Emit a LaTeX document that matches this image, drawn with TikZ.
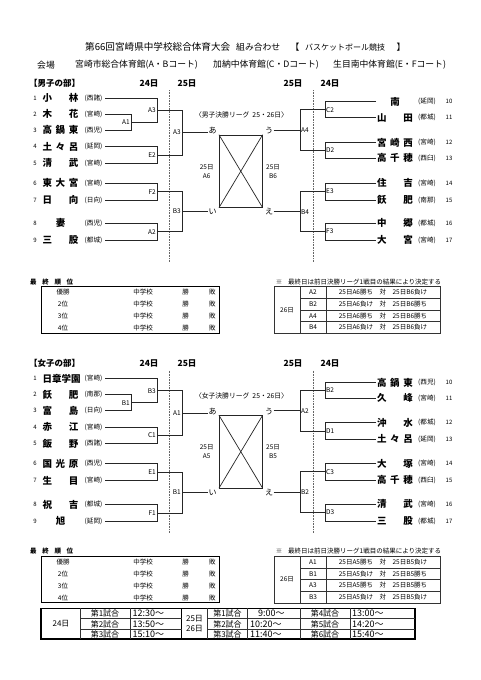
\documentclass[tikz,border=0pt]{standalone}
\usepackage{fontspec}
\setmainfont{Noto Sans CJK JP}
\usetikzlibrary{calc}
\tikzset{
  br/.style={draw=black!85, line width=0.7pt},
  dl/.style={draw=black!60, line width=0.6pt, dash pattern=on 0.7pt off 0.9pt},
  tm/.style={inner sep=0pt, font=\fontsize{9.5}{10}\selectfont\bfseries},
  rg/.style={inner sep=0pt, font=\fontsize{6.6}{7}\selectfont},
  num/.style={inner sep=0pt, font=\fontsize{6}{7}\selectfont},
  lb/.style={inner sep=1pt, font=\fontsize{6.5}{7}\selectfont},
  hd/.style={inner sep=0pt, font=\fontsize{8.5}{9}\selectfont\bfseries},
  ti/.style={inner sep=0pt, font=\fontsize{8.8}{9}\selectfont},
  kana/.style={inner sep=0.5pt, font=\fontsize{8}{9}\selectfont},
  sm/.style={inner sep=0pt, font=\fontsize{6.5}{7}\selectfont},
  tb/.style={inner sep=0pt, font=\fontsize{6.5}{7}\selectfont},
  sc/.style={inner sep=0pt, font=\fontsize{8}{9}\selectfont},
  st/.style={inner sep=0pt, font=\fontsize{9}{9}\selectfont},
  bx/.style={draw=black, line width=1.3pt},
  tl/.style={draw=black!80, line width=0.6pt},
}
\newcommand\lteam[5]{%
  \node[num] (#1n) at (35,#2) {#3};
  \node[tm] (#1t) at (60.5,#2) {\makebox[36pt][s]{#4}};
  \node[rg] (#1r) at (93.5,#2) {#5};
  \coordinate (#1) at (105,#2);}
\newcommand\rteam[5]{%
  \node[tm] (#1t) at (395,#2) {\makebox[36pt][s]{#4}};
  \node[rg] (#1r) at (427,#2) {#5};
  \node[num] (#1n) at (449,#2) {#3};
  \coordinate (#1) at (376,#2);}
\newcommand\ljoin[5]{%
  \draw[br] (#2) -- (#2 -| #4) -- (#3 -| #4) -- (#3);
  \coordinate (#1) at ($(#2 -| #4)!0.5!(#3 -| #4)$);
  \node[lb, anchor=east] (#1l) at (#1) {#5};}
\newcommand\rjoin[5]{%
  \draw[br] (#2) -- (#2 -| #4) -- (#3 -| #4) -- (#3);
  \coordinate (#1) at ($(#2 -| #4)!0.5!(#3 -| #4)$);
  \node[lb, anchor=west] (#1l) at (#1) {#5};}
\newcommand\secframe[5]{% prefix, 男子/女子, A6, B6, dotted bottom
  \node[hd, anchor=west] (#1hd) at (29,83) {【#2の部】};
  \node[hd] (#1d1) at (149,83) {24日};
  \node[hd] (#1d2) at (187,83) {25日};
  \node[hd] (#1d3) at (293,83) {25日};
  \node[hd] (#1d4) at (330,83) {24日};
  \coordinate (#1lt) at (169,90); \coordinate (#1lb) at (169,#5);
  \coordinate (#1rt) at (313,90); \coordinate (#1rb) at (313,#5);
  \draw[dl] (#1lt) -- (#1lb);
  \draw[dl] (#1rt) -- (#1rb);
  \node[sm, font=\fontsize{6.8}{7}\selectfont] (#1lg) at (241.5,115) {〈#2決勝リーグ\ \ 25・26日〉};
  \node[br, minimum width=43pt, minimum height=72.3pt, inner sep=0pt] (#1box) at (240.8,171.2) {};
  \draw[br] (#1box.north west) -- (#1box.south east);
  \draw[br] (#1box.north east) -- (#1box.south west);
  \node[kana] (#1a) at (212.5,131) {あ};
  \node[kana] (#1i) at (212.5,212) {い};
  \node[kana] (#1u) at (269,131) {う};
  \node[kana] (#1e) at (269,212) {え};
  \node[sm, align=center, font=\fontsize{6.5}{9.3}\selectfont] (#1gl) at (206.7,171.3) {25日\\#3};
  \node[sm, align=center, font=\fontsize{6.5}{9.3}\selectfont] (#1gr) at (273,171.3) {25日\\#4};
}
\newcommand\finals[7]{%
  \node[sm, anchor=west] (#1st) at (30,281.7) {\makebox[43pt][s]{\bfseries 最\hfill 終\hfill 順\hfill 位}};
  \draw[bx] (41.7,286.7) rectangle (219.3,333.3);
  \foreach \rr/\yy [count=\i] in {優勝/292.3, 2位/304.3, 3位/316.3, 4位/328.3} {
     \node[tb] (#1r\i) at (63,\yy) {\rr};
     \node[tb] (#1s\i) at (143,\yy) {中学校};
     \node[tb] (#1w\i) at (185.7,\yy) {勝};
     \node[tb] (#1l\i) at (212.3,\yy) {敗};
  }
  \node[sm] (#1kome) at (279,281.7) {※};
  \node[sm, anchor=west] (#1nt) at (288,281.7) {最終日は前日決勝リーグ1戦目の結果により決定する};
  \draw[tl] (274.3,286.7) rectangle (440,333.3);
  \draw[tl] (300,286.7) -- (300,333.3);
  \draw[tl] (326,286.7) -- (326,333.3);
  \foreach \yy in {298.3,310,321.7} {\draw[tl] (300,\yy) -- (440,\yy);}
  \node[tb] (#1dd) at (287,310) {26日};
  \node[tb] (#1g1) at (313,292.5) {#4};
  \node[tb] (#1c1) at (383,292.5) {25日#2勝ち　対　25日#3負け};
  \node[tb] (#1g2) at (313,304.15) {#5};
  \node[tb] (#1c2) at (383,304.15) {25日#2負け　対　25日#3勝ち};
  \node[tb] (#1g3) at (313,315.85) {#6};
  \node[tb] (#1c3) at (383,315.85) {25日#2勝ち　対　25日#3勝ち};
  \node[tb] (#1g4) at (313,327.5) {#7};
  \node[tb] (#1c4) at (383,327.5) {25日#2負け　対　25日#3負け};
}
\begin{document}
\begin{tikzpicture}[x=1pt,y=-1pt]
\useasboundingbox (0,0) rectangle (481,680);
\fill[white] (0,0) rectangle (481,680);
\coordinate (xL1) at (131,0);
\coordinate (xL2) at (157,0);
\coordinate (xL3) at (182,0);
\coordinate (xR3) at (300,0);
\coordinate (xR2) at (325,0);
% header
\node[ti, anchor=west, font=\fontsize{9.6}{10}\selectfont] (t1) at (85,47) {第66回宮崎県中学校総合体育大会};
\node[ti, anchor=west] (t2) at (236,47) {組み合わせ};
\node[ti] (t3) at (295,47) {【};
\node[ti, anchor=west, font=\fontsize{8}{9}\selectfont] (t4) at (305,47) {バスケットボール競技};
\node[ti] (t5) at (401,47) {】};
\node[ti, anchor=west] (v0) at (37,65) {会場};
\node[ti, anchor=west] (v1) at (75,65) {宮崎市総合体育館(A・Bコート)};
\node[ti, anchor=west] (v2) at (213,65) {加納中体育館(C・Dコート)};
\node[ti, anchor=west] (v3) at (333,65) {生目南中体育館(E・Fコート)};
% ===== men =====
\secframe{m}{男子}{A6}{B6}{262}
\lteam{m1}{98.3}{1}{小\hfill 林}{(西諸)}
\lteam{m2}{114.3}{2}{木\hfill 花}{(宮崎)}
\lteam{m3}{130}{3}{高\hfill 鍋\hfill 東}{(西児)}
\lteam{m4}{146.7}{4}{土\hfill 々\hfill 呂}{(延岡)}
\lteam{m5}{163.3}{5}{清\hfill 武}{(宮崎)}
\lteam{m6}{183.3}{6}{東\hfill 大\hfill 宮}{(宮崎)}
\lteam{m7}{200}{7}{日\hfill 向}{(日向)}
\lteam{m8}{223.3}{8}{\hfill 妻\hfill}{(西児)}
\lteam{m9}{240}{9}{三\hfill 股}{(都城)}
\rteam{m10}{101.7}{10}{\hfill 南\hfill}{(延岡)}
\rteam{m11}{117.7}{11}{山\hfill 田}{(都城)}
\rteam{m12}{142.7}{12}{宮\hfill 崎\hfill 西}{(宮崎)}
\rteam{m13}{158.3}{13}{高\hfill 千\hfill 穂}{(西臼)}
\rteam{m14}{183.3}{14}{住\hfill 吉}{(宮崎)}
\rteam{m15}{200}{15}{飫\hfill 肥}{(南那)}
\rteam{m16}{223.3}{16}{中\hfill 郷}{(都城)}
\rteam{m17}{240}{17}{大\hfill 宮}{(宮崎)}
\ljoin{mA1}{m2}{m3}{xL1}{A1}
\ljoin{mA3}{m1}{mA1}{xL2}{A3}
\ljoin{mE2}{m4}{m5}{xL2}{E2}
\ljoin{mF2}{m6}{m7}{xL2}{F2}
\ljoin{mA2}{m8}{m9}{xL2}{A2}
\ljoin{mA3b}{mA3}{mE2}{xL3}{A3}
\ljoin{mB3}{mF2}{mA2}{xL3}{B3}
\draw[br] (mA3b) -- (mA3b -| ma.west);
\draw[br] (mB3) -- (mB3 -| mi.west);
\rjoin{mC2}{m10}{m11}{xR2}{C2}
\rjoin{mD2}{m12}{m13}{xR2}{D2}
\rjoin{mE3}{m14}{m15}{xR2}{E3}
\rjoin{mF3}{m16}{m17}{xR2}{F3}
\rjoin{mA4}{mC2}{mD2}{xR3}{A4}
\rjoin{mB4}{mE3}{mF3}{xR3}{B4}
\draw[br] (mu.east |- mA4) -- (mA4);
\draw[br] (me.east |- mB4) -- (mB4);
\finals{mf}{A6}{B6}{A2}{B2}{A4}{B4}
% ===== women =====
\begin{scope}[shift={(0,280.5)}]
\secframe{w}{女子}{A5}{B5}{252.8}
\lteam{w1}{98.3}{1}{日\hfill 章\hfill 学\hfill 園}{(宮崎)}
\lteam{w2}{114.3}{2}{飫\hfill 肥}{(南那)}
\lteam{w3}{130}{3}{富\hfill 島}{(日向)}
\lteam{w4}{146.7}{4}{赤\hfill 江}{(宮崎)}
\lteam{w5}{163.3}{5}{飯\hfill 野}{(西諸)}
\lteam{w6}{183.3}{6}{国\hfill 光\hfill 原}{(西児)}
\lteam{w7}{200}{7}{生\hfill 目}{(宮崎)}
\lteam{w8}{224}{8}{祝\hfill 吉}{(都城)}
\lteam{w9}{240.7}{9}{\hfill 旭\hfill}{(延岡)}
\rteam{w10}{102}{10}{高\hfill 鍋\hfill 東}{(西児)}
\rteam{w11}{117.7}{11}{久\hfill 峰}{(宮崎)}
\rteam{w12}{142.3}{12}{沖\hfill 水}{(都城)}
\rteam{w13}{158.8}{13}{土\hfill 々\hfill 呂}{(延岡)}
\rteam{w14}{183}{14}{大\hfill 塚}{(宮崎)}
\rteam{w15}{199.5}{15}{高\hfill 千\hfill 穂}{(西臼)}
\rteam{w16}{223.8}{16}{清\hfill 武}{(宮崎)}
\rteam{w17}{240.5}{17}{三\hfill 股}{(都城)}
\ljoin{wB1}{w2}{w3}{xL1}{B1}
\ljoin{wB3}{w1}{wB1}{xL2}{B3}
\ljoin{wC1}{w4}{w5}{xL2}{C1}
\ljoin{wE1}{w6}{w7}{xL2}{E1}
\ljoin{wF1}{w8}{w9}{xL2}{F1}
\ljoin{wA1}{wB3}{wC1}{xL3}{A1}
\ljoin{wB1b}{wE1}{wF1}{xL3}{B1}
\draw[br] (wA1) -- (wA1 -| wa.west);
\draw[br] (wB1b) -- (wB1b -| wi.west);
\rjoin{wB2}{w10}{w11}{xR2}{B2}
\rjoin{wD1}{w12}{w13}{xR2}{D1}
\rjoin{wC3}{w14}{w15}{xR2}{C3}
\rjoin{wD3}{w16}{w17}{xR2}{D3}
\rjoin{wA2}{wB2}{wD1}{xR3}{A2}
\rjoin{wB2b}{wC3}{wD3}{xR3}{B2}
\draw[br] (wu.east |- wA2) -- (wA2);
\draw[br] (we.east |- wB2b) -- (wB2b);
\end{scope}
\begin{scope}[shift={(0,269.5)}]
\finals{wf}{A5}{B5}{A1}{B1}{A3}{B3}
\end{scope}
% ===== schedule =====
\draw[bx] (41,608.3) rectangle (415,639);
\foreach \xx in {80.7,130,207.3,247.7,300,350} {\draw[tl] (\xx,608.3) -- (\xx,639);}
\draw[draw=black, line width=1pt] (181.7,608.3) -- (181.7,639);
\draw[tl] (80.7,618.7) -- (181.7,618.7);
\draw[tl] (80.7,629) -- (181.7,629);
\draw[tl] (207.3,618.7) -- (415,618.7);
\draw[tl] (207.3,629) -- (415,629);
\node[sc] (s24) at (61,624) {24日};
\node[sc] (s1a) at (105,613.5) {第1試合};
\node[sc] (s2a) at (105,624) {第2試合};
\node[sc] (s3a) at (105,634) {第3試合};
\node[st, anchor=west] (s1t) at (132.5,613.5) {12:30〜};
\node[st, anchor=west] (s2t) at (132.5,624) {13:50〜};
\node[st, anchor=west] (s3t) at (132.5,634) {15:10〜};
\node[sc] (s25) at (194.5,619) {25日};
\node[sc] (s26) at (194.5,629) {26日};
\node[sc] (s1b) at (227.5,613.5) {第1試合};
\node[sc] (s2b) at (227.5,624) {第2試合};
\node[sc] (s3b) at (227.5,634) {第3試合};
\node[st, anchor=west] (s1u) at (258,613.5) {9:00〜};
\node[st, anchor=west] (s2u) at (250,624) {10:20〜};
\node[st, anchor=west] (s3u) at (250,634) {11:40〜};
\node[sc] (s4c) at (325,613.5) {第4試合};
\node[sc] (s5c) at (325,624) {第5試合};
\node[sc] (s6c) at (325,634) {第6試合};
\node[st, anchor=west] (s4t) at (352,613.5) {13:00〜};
\node[st, anchor=west] (s5t) at (352,624) {14:20〜};
\node[st, anchor=west] (s6t) at (352,634) {15:40〜};
\end{tikzpicture}
\end{document}
